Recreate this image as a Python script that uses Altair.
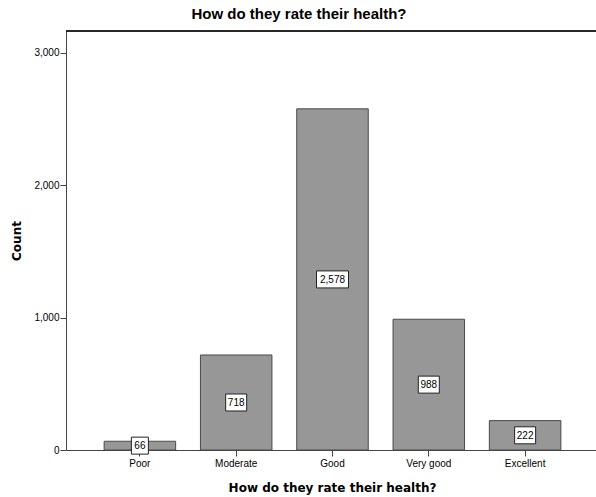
import altair as alt
import pandas as pd

# Self-rated health: number of respondents per category
categories = ["Poor", "Moderate", "Good", "Very good", "Excellent"]
counts = [66, 718, 2578, 988, 222]

df = pd.DataFrame({"category": categories, "count": counts})

TICK_FONT = "Liberation Sans"
TITLE_FONT = "DejaVu Sans"


def x_enc():
    return alt.X(
        "category:N",
        sort=categories,
        scale=alt.Scale(range=[0, 533], paddingInner=0.2575, paddingOuter=0.396),
        axis=alt.Axis(
            title="How do they rate their health?",
            labelAngle=0,
            tickSize=6,
            labelPadding=2,
            titleFont=TITLE_FONT,
            titleFontSize=12,
            titleFontWeight="bold",
            titleX=266,
            titleY=37,
            titleBaseline="middle",
        ),
    )


def y_enc(field):
    return alt.Y(
        field,
        scale=alt.Scale(domain=[0, 3166], nice=False),
        axis=alt.Axis(
            title="Count",
            values=[0, 1000, 2000, 3000],
            labelExpr="format(datum.value, ',.0f')",
            tickSize=6,
            labelPadding=1,
            titleFont=TITLE_FONT,
            titleFontSize=12,
            titleFontWeight="bold",
            titleX=-50,
            titleY=209.5,
            titleAngle=-90,
            titleBaseline="middle",
        ),
    )


base = alt.Chart(df)

bars = base.mark_bar(fill="#979797", stroke="#4a4a4a", strokeWidth=1).encode(
    x=x_enc(), y=y_enc("count:Q")
)

labeled = base.transform_calculate(
    mid="datum.count / 2",
    chars="length(format(datum.count, ','))",
)


def value_box(chars, w):
    return (
        labeled.transform_filter(f"datum.chars == {chars}")
        .mark_bar(
            width=w,
            fill="white",
            stroke="#222",
            strokeWidth=1,
            yOffset=-8.5,
            y2Offset=8.5,
        )
        .encode(x=x_enc(), y=y_enc("mid:Q"), y2="mid:Q")
    )


boxes = [value_box(2, 17), value_box(3, 21), value_box(5, 32)]

texts = labeled.mark_text(
    font=TICK_FONT, fontSize=10, color="black", baseline="middle", dy=0.5
).encode(x=x_enc(), y=y_enc("mid:Q"), text=alt.Text("count:Q", format=","))

top_border = base.mark_rule(color="#222", strokeWidth=1).encode(
    x=alt.value(0), x2=alt.value(533), y=alt.value(0)
)

chart = (
    alt.layer(bars, *boxes, texts, top_border)
    .properties(
        width=530,
        height=419,
        autosize=alt.AutoSizeParams(type="none"),
        padding={"left": 66, "top": 31, "right": 0, "bottom": 47},
        title=alt.TitleParams(
            "How do they rate their health?",
            font=TICK_FONT,
            fontSize=15,
            fontWeight="bold",
            color="black",
            anchor="middle",
            frame="group",
            dx=-32,
            offset=9,
        ),
    )
    .configure_view(stroke=None)
    .configure_axis(
        grid=False,
        domainColor="#444",
        tickColor="#444",
        labelColor="black",
        labelFont=TICK_FONT,
        labelFontSize=10,
        titleColor="black",
    )
)

chart.save("out.html", embed_options={"renderer": "svg", "actions": False})
